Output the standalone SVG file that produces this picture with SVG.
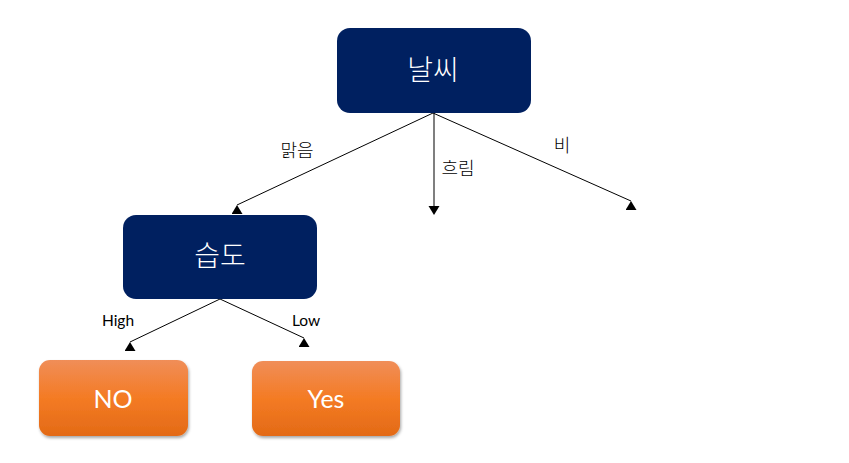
<svg xmlns="http://www.w3.org/2000/svg" width="849" height="463" viewBox="0 0 849 463">
<style>
.navy{fill:#002060;}
.orange{fill:url(#og);filter:url(#sh);}
.kr{font-family:"Noto Sans CJK KR","Noto Sans",sans-serif;font-weight:300;}
.lat{font-family:Lato,"Liberation Sans",sans-serif;}
.big{fill:#ffffff;font-size:28px;text-anchor:middle;}
.bigl{fill:#ffffff;font-size:25px;text-anchor:middle;}
.lbl{fill:#000000;font-size:18px;text-anchor:middle;}
.sm{fill:#000000;font-size:15.5px;text-anchor:middle;}
.ln{stroke:#000000;stroke-width:1;fill:none;}
.lng{stroke:#7f7f7f;stroke-width:2;fill:none;}
</style>
<defs>
<linearGradient id="og" x1="0" y1="0" x2="0" y2="1">
<stop offset="0" stop-color="#F08E58"/>
<stop offset="0.5" stop-color="#F47B24"/>
<stop offset="1" stop-color="#E36A16"/>
</linearGradient>
<filter id="sh" x="-10%" y="-10%" width="125%" height="135%">
<feDropShadow dx="1" dy="2" stdDeviation="1.5" flood-color="#000000" flood-opacity="0.35"/>
</filter>
<marker id="up" markerUnits="userSpaceOnUse" markerWidth="11" markerHeight="9" viewBox="0 0 11 9" refX="5.5" refY="0" orient="0">
<path d="M5.5,0 L11,9 L0,9 z" fill="#000000"/>
</marker>
</defs>
<rect width="849" height="463" fill="#ffffff"/>
<g id="connectors">
<line class="ln" x1="433" y1="113" x2="237" y2="205" marker-end="url(#up)"/>
<line class="lng" x1="434" y1="113" x2="434" y2="206"/>
<path d="M428.5,206 L439.5,206 L434,215 z" fill="#000000"/>
<line class="ln" x1="433" y1="113" x2="631" y2="201" marker-end="url(#up)"/>
<line class="ln" x1="220" y1="299" x2="130" y2="342" marker-end="url(#up)"/>
<line class="ln" x1="220" y1="299" x2="304" y2="338" marker-end="url(#up)"/>
<text class="kr lbl" x="297" y="157">맑음</text>
<text class="kr lbl" x="458" y="175">흐림</text>
<text class="kr lbl" x="562" y="152">비</text>
<text class="lat sm" x="118" y="326">High</text>
<text class="lat sm" x="306" y="326">Low</text>
</g>
<g id="node-weather">
<rect class="navy" x="337" y="28" width="194" height="85" rx="13"/>
<text class="kr big" x="433" y="80">날씨</text>
</g>
<g id="node-humidity">
<rect class="navy" x="123" y="215" width="194" height="84" rx="13"/>
<text class="kr big" x="220" y="266">습도</text>
</g>
<g id="node-no">
<rect class="orange" x="39" y="360" width="149" height="76" rx="11"/>
<text class="lat bigl" x="113" y="408">NO</text>
</g>
<g id="node-yes">
<rect class="orange" x="252" y="361" width="148" height="75" rx="11"/>
<text class="lat bigl" x="326" y="408">Yes</text>
</g>
</svg>
